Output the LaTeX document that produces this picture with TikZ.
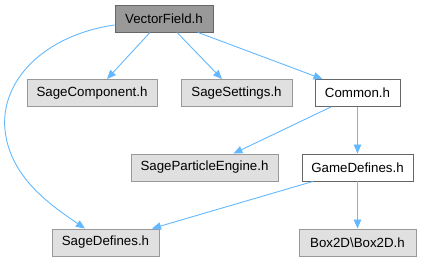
\documentclass[tikz,border=0pt]{standalone}
\usepackage{fontspec}
\setmainfont{Liberation Sans}
\usetikzlibrary{arrows.meta}
\definecolor{edgeblue}{HTML}{63B8FF}
\definecolor{boxgray}{HTML}{E0E0E0}
\definecolor{boxline}{HTML}{999999}
\definecolor{darkline}{HTML}{666666}
\definecolor{rootfill}{HTML}{999999}
\tikzset{
  hdr/.style={draw=boxline, fill=boxgray, line width=0.9pt, minimum height=27pt,
    inner sep=0pt, font=\fontsize{13.3}{15}\selectfont},
  localhdr/.style={hdr, draw=darkline, fill=white},
  roothdr/.style={hdr, draw=darkline, fill=rootfill},
  dep/.style={draw=edgeblue, line width=0.9pt, -{Triangle[length=9pt,width=7.5pt]}},
}
\begin{document}
\begin{tikzpicture}[x=1pt, y=-1pt]
\useasboundingbox (0,0) rectangle (421,261);
% header nodes
\node[roothdr, minimum width=98pt]  (vf)  at (164,18.5)   {VectorField.h};
\node[hdr, minimum width=130pt]     (sc)  at (92,93)      {SageComponent.h};
\node[hdr, minimum width=111pt]     (ss)  at (236.5,93)   {SageSettings.h};
\node[localhdr, minimum width=85pt] (com) at (357.5,93)   {Common.h};
\node[hdr, minimum width=147pt]     (spe) at (204.5,167.5) {SageParticleEngine.h};
\node[localhdr, minimum width=111pt] (gd) at (357.5,167.5) {GameDefines.h};
\node[hdr, minimum width=107pt]     (sd)  at (105.5,242.5) {SageDefines.h};
\node[hdr, minimum width=117pt]     (box) at (357.5,242.5) {Box2D\textbackslash Box2D.h};
% include edges
\draw[dep] ([xshift=-14pt]vf.south) -- ([xshift=15pt]sc.north);
\draw[dep] ([xshift=13pt]vf.south) -- ([xshift=-14.5pt]ss.north);
\draw[dep] ([xshift=34pt]vf.south) -- ([xshift=-35pt]com.north);
\draw[dep] ([yshift=-6.5pt]vf.west) .. controls (45,35) and (0,80) .. (5,130)
           .. controls (10,178) and (52,206) .. ([xshift=-20.5pt]sd.north);
\draw[dep] ([xshift=-26.5pt]com.south) -- ([xshift=29pt]spe.north);
\draw[dep] (com) -- (gd);
\draw[dep] ([xshift=-44.5pt]gd.south) -- ([xshift=46.5pt]sd.north);
\draw[dep] (gd) -- (box);
\end{tikzpicture}
\end{document}
